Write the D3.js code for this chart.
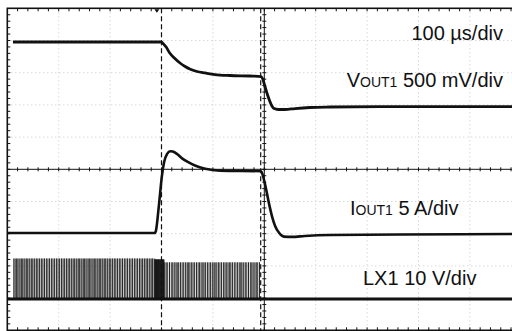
<!DOCTYPE html>
<html><head><meta charset="utf-8">
<script src="https://cdn.jsdelivr.net/npm/d3@7"></script>
<style>html,body{margin:0;padding:0;background:#fff;overflow:hidden}</style>
</head><body><svg id="c" width="512" height="331"></svg>
<script>
// ---- data (time in µs, 100 µs/div) ----
const vout1Time = [11, 299, 303, 309, 316, 326, 336, 346, 355, 369, 385, 404, 433, 472, 494, 497, 501, 507, 513, 519, 527, 540, 560, 589, 628, 725, 982];
const vout1mV   = [0, 0, -23, -78, -171, -256, -326, -380, -419, -458, -481, -505, -520, -528, -536, -575, -683, -839, -963, -1033, -1048, -1048, -1033, -1017, -1009, -1002, -1002];

const iout1Time = [1, 287, 289, 295, 301, 305, 311, 317, 322, 330, 340, 352, 365, 385, 414, 494, 497, 503, 509, 515, 521, 529, 538, 554, 579, 628, 764, 982];
const iout1A    = [0, 0, 0.3, 4.35, 9.0, 11.0, 12.3, 12.7, 12.65, 12.3, 11.6, 11.0, 10.5, 10.0, 9.7, 9.6, 9.0, 7.0, 4.65, 2.6, 1.1, 0, -0.55, -0.6, -0.45, -0.3, -0.23, -0.15];

// LX1 switching: segments of displayed pulse bursts (two interleaved displayed pulse trains)
const lxSegStart   = [13, 287, 305];
const lxSegEnd     = [287, 305, 494];
const lxSegPeriodA = [3.3, 1.2, 3.5];
const lxSegPeriodB = [4.9, 1.7, 5.3];
const lxSegHighV   = [12.6, 12.3, 11.4];
const lxLowTime    = [1, 982];
const lxLowV       = [0, 0];

const cursorTimes = [300, 493];
const triggerTime = 291;

const labels = [
  {main: "", sub: "", rest: "100 µs/div"},
  {main: "V", sub: "OUT1", rest: " 500 mV/div"},
  {main: "I", sub: "OUT1", rest: " 5 A/div"},
  {main: "", sub: "", rest: "LX1 10 V/div"}
];

// channel settings (units/div, offset in div)
const ch = {vout: {scale: 500, off: 3.953}, iout: {scale: 5, off: -1.98}, lx: {scale: 10, off: -4.03}};

// ---- drawing ----
const svg = d3.select('#c');
const L = 7.3, T = 8.3, R = 521.3, B = 330.3;
const xt = d3.scaleLinear().domain([0, 1000]).range([L, R]);
const xd = d3.scaleLinear().domain([0, 10]).range([L, R]);
const yd = d3.scaleLinear().domain([-5, 5]).range([B, T]);
const cx = xd(5), cy = yd(0);
const ink = '#111';

// dotted grid
const gv = d3.range(1, 10).filter(i => i !== 5);
svg.selectAll('.gv').data(gv).enter().append('line')
  .attr('x1', d => xd(d)).attr('x2', d => xd(d)).attr('y1', T).attr('y2', B)
  .attr('stroke', '#c8c8c8').attr('stroke-width', 1).attr('stroke-dasharray', '1,3');
const gh = d3.range(-4, 5).filter(j => j !== 0);
svg.selectAll('.gh').data(gh).enter().append('line')
  .attr('x1', L).attr('x2', R).attr('y1', d => yd(d)).attr('y2', d => yd(d))
  .attr('stroke', '#c8c8c8').attr('stroke-width', 1).attr('stroke-dasharray', '1,3');

// frame
svg.append('rect').attr('x', L).attr('y', T).attr('width', R - L).attr('height', B - T)
  .attr('fill', 'none').attr('stroke', ink).attr('stroke-width', 1.6);

// minor ticks
const xm = d3.range(1, 50).map(i => i / 5);
const ym = d3.range(-24, 25).map(i => i / 5);
const tg = svg.append('g').attr('stroke', ink).attr('stroke-width', 1);
tg.selectAll('.tt').data(xm).enter().append('line')
  .attr('x1', d => xd(d)).attr('x2', d => xd(d)).attr('y1', T).attr('y2', T + 3);
tg.selectAll('.tb').data(xm).enter().append('line')
  .attr('x1', d => xd(d)).attr('x2', d => xd(d)).attr('y1', B).attr('y2', B - 3);
tg.selectAll('.tl').data(ym).enter().append('line')
  .attr('x1', L).attr('x2', L + 3).attr('y1', d => yd(d)).attr('y2', d => yd(d));
// center axes
tg.append('line').attr('x1', L).attr('x2', R).attr('y1', cy).attr('y2', cy);
tg.append('line').attr('x1', cx).attr('x2', cx).attr('y1', T).attr('y2', B);
tg.selectAll('.tcx').data(xm).enter().append('line')
  .attr('x1', d => xd(d)).attr('x2', d => xd(d)).attr('y1', cy - 2).attr('y2', cy + 2);
tg.selectAll('.tcy').data(ym).enter().append('line')
  .attr('x1', cx - 2).attr('x2', cx + 2).attr('y1', d => yd(d)).attr('y2', d => yd(d));

// cursors
svg.selectAll('.cur').data(cursorTimes).enter().append('line')
  .attr('x1', d => xt(d)).attr('x2', d => xt(d)).attr('y1', T).attr('y2', B)
  .attr('stroke', ink).attr('stroke-width', 1.2).attr('stroke-dasharray', '5,3');

// trigger marker
const tx = xt(triggerTime);
svg.append('path').attr('d', `M${tx - 2.5},${T + 1}L${tx + 2.5},${T + 1}L${tx},${T + 4.5}Z`).attr('fill', ink);

const yOf = c => v => yd(c.off + v / c.scale);

// LX1 pulses
const yLx = yOf(ch.lx);
const pulses = [];
lxSegStart.forEach((s, i) => {
  [lxSegPeriodA[i], lxSegPeriodB[i]].forEach(p => {
    for (let t = s; t < lxSegEnd[i]; t += p) pulses.push({t, hi: lxSegHighV[i]});
  });
});
svg.append('g').selectAll('line').data(pulses).enter().append('line')
  .attr('x1', d => xt(d.t)).attr('x2', d => xt(d.t))
  .attr('y1', yLx(0)).attr('y2', d => yLx(d.hi))
  .attr('stroke', ink).attr('stroke-width', 0.9).attr('stroke-opacity', 0.85);
svg.append('path')
  .attr('d', d3.line().x(d => xt(d[0])).y(d => yLx(d[1]))(lxLowTime.map((t, i) => [t, lxLowV[i]])))
  .attr('fill', 'none').attr('stroke', ink).attr('stroke-width', 3);

// VOUT1 and IOUT1 traces
function trace(times, vals, c, w) {
  const y = yOf(c);
  svg.append('path')
    .attr('d', d3.line().x(d => xt(d[0])).y(d => y(d[1])).curve(d3.curveMonotoneX)(times.map((t, i) => [t, vals[i]])))
    .attr('fill', 'none').attr('stroke', ink).attr('stroke-width', w).attr('stroke-linejoin', 'round');
}
trace(vout1Time, vout1mV, ch.vout, 2.8);
trace(iout1Time, iout1A, ch.iout, 2.6);

// labels
const lpos = [{x: 503, y: 40, a: 'end'}, {x: 503, y: 87, a: 'end'}, {x: 350, y: 215, a: 'start'}, {x: 363, y: 285, a: 'start'}];
labels.forEach((lb, i) => {
  const t = svg.append('text').attr('x', lpos[i].x).attr('y', lpos[i].y).attr('text-anchor', lpos[i].a)
    .attr('font-family', 'Liberation Sans, Arial, sans-serif').attr('font-size', 20).attr('fill', ink);
  if (lb.main) t.append('tspan').text(lb.main);
  if (lb.sub) t.append('tspan').attr('font-size', 14).text(lb.sub);
  t.append('tspan').text(lb.rest);
});
</script>
</body></html>
